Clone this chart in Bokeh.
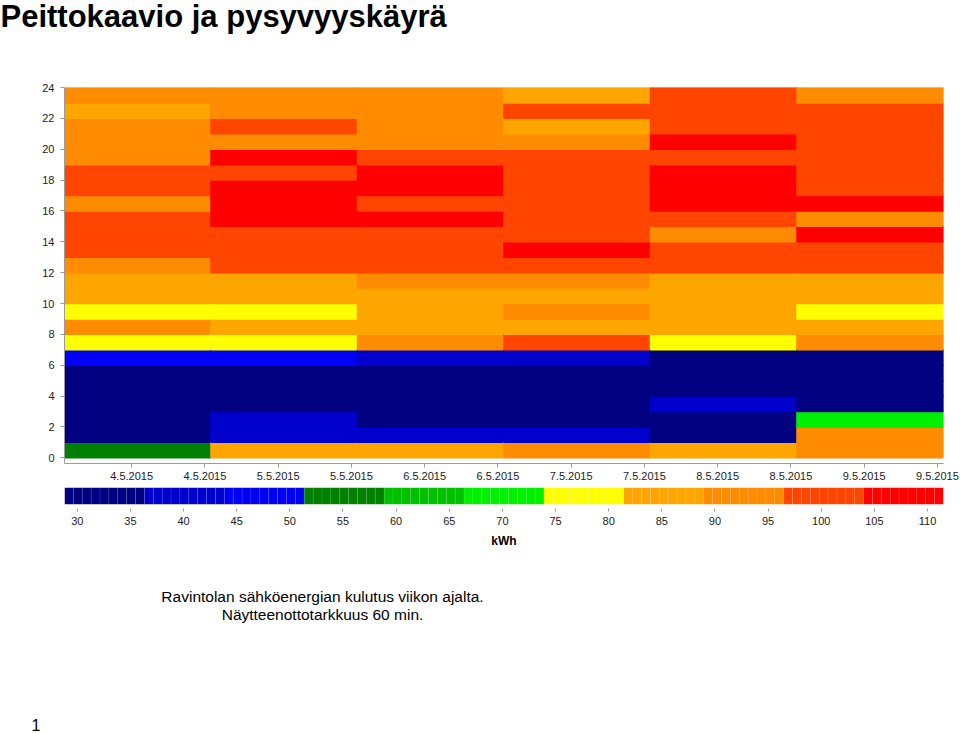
import numpy as np
from bokeh.plotting import figure
from bokeh.layouts import column
from bokeh.models import ColumnDataSource, Range1d, FixedTicker, LinearColorMapper, Label
from bokeh.transform import transform
from bokeh.embed import file_html
from bokeh.resources import INLINE

# ---------------- data ----------------
dates = ["4.5.2015", "5.5.2015", "6.5.2015", "7.5.2015", "8.5.2015", "9.5.2015"]
hours = list(range(24))
tick_hours = [11, 23]

# hourly energy consumption, kWh (index = hour 0..23)
kwh_04 = [55, 33, 32, 33, 32, 34, 47, 78, 91, 77, 86, 85, 92, 99, 100, 101, 93, 100, 99, 94, 92, 93, 87, 91]
kwh_05 = [85, 42, 43, 34, 33, 33, 48, 79, 84, 78, 86, 85, 101, 100, 102, 106, 107, 106, 101, 105, 93, 99, 92, 91]
kwh_06 = [86, 41, 34, 33, 32, 33, 41, 90, 86, 85, 86, 90, 100, 101, 99, 105, 102, 106, 107, 100, 93, 92, 92, 91]
kwh_07 = [91, 41, 34, 33, 33, 34, 42, 98, 87, 90, 86, 90, 99, 105, 100, 101, 100, 99, 101, 100, 92, 87, 99, 86]
kwh_08 = [85, 34, 33, 40, 33, 33, 35, 78, 85, 86, 84, 85, 100, 99, 92, 98, 106, 107, 106, 101, 105, 100, 101, 99]
kwh_09 = [91, 92, 70, 33, 32, 33, 34, 91, 86, 77, 85, 86, 100, 101, 105, 91, 106, 100, 99, 101, 100, 102, 100, 92]
series = [kwh_04, kwh_05, kwh_06, kwh_07, kwh_08, kwh_09]

scale_ticks = [30, 35, 40, 45, 50, 55, 60, 65, 70, 75, 80, 85, 90, 95, 100, 105, 110]
scale_low, scale_high = 28.8, 111.5
palette = ["#000080", "#0000CD", "#0000F5", "#008000", "#00C000", "#00F000",
           "#FFFF00", "#FFA500", "#FF8C00", "#FF4500", "#FF0000"]

title_text = "Peittokaavio ja pysyvyyskäyrä"
caption_1 = "Ravintolan sähköenergian kulutus viikon ajalta."
caption_2 = "Näytteenottotarkkuus 60 min."
page_no = "1"

FONT = "Liberation Sans"
W = 960
FL, FR = 64, 943   # frame edges shared by all stacked figures (page pixels)

mapper = LinearColorMapper(palette=palette, low=scale_low, high=scale_high)


def text_fig(h, **kw):
    f = figure(width=W, height=h, x_range=Range1d(FL, FR), y_range=Range1d(1, 0),
               x_axis_location=None, y_axis_location=None, toolbar_location=None,
               output_backend="svg", min_border_left=FL, min_border_right=W - FR,
               outline_line_color=None, **kw)
    f.grid.visible = False
    return f


# ---------------- title ----------------
pt = text_fig(50, title=title_text, title_location="above", min_border_top=0, min_border_bottom=0)
pt.title.text_font = FONT
pt.title.text_font_style = "bold"
pt.title.text_font_size = "31px"
pt.title.text_color = "black"
pt.title.align = "left"
pt.title.vertical_align = "top"
pt.title.offset = -FL
pt.title.standoff = -3

# ---------------- heatmap ----------------
xs, ys, vs = [], [], []
for d, vals in enumerate(series):
    for h, v in zip(hours, vals):
        xs.append(d + 0.5)
        ys.append(h + 0.5)
        vs.append(v)
src = ColumnDataSource(dict(x=xs, y=ys, kwh=vs))

p = figure(width=W, height=435, x_range=Range1d(0, len(dates)), y_range=Range1d(-0.37, 24),
           toolbar_location=None, output_backend="svg",
           min_border_left=FL, min_border_right=W - FR, min_border_top=37, min_border_bottom=22,
           outline_line_color=None)
p.grid.visible = False
p.rect(x="x", y="y", width=1, height=1, source=src,
       fill_color=transform("kwh", mapper), line_color=transform("kwh", mapper), line_width=1.5)

xticks = [d + h / 24 for d in range(len(dates)) for h in tick_hours]
p.xaxis.ticker = FixedTicker(ticks=xticks)
p.xaxis.major_label_overrides = {t: dates[int(t)] for t in xticks}
p.yaxis.ticker = FixedTicker(ticks=list(range(0, 25, 2)))
for ax in (p.xaxis, p.yaxis):
    ax.axis_line_color = "#9a9a9a"
    ax.major_tick_line_color = "#9a9a9a"
    ax.minor_tick_line_color = None
    ax.major_tick_in = 0
    ax.major_tick_out = 4
    ax.major_label_text_font = FONT
    ax.major_label_text_font_size = "11px"
    ax.major_label_text_color = "#222222"
p.xaxis.major_label_standoff = 4
p.yaxis.major_label_standoff = 6

# ---------------- colour scale ----------------
edges = np.linspace(scale_low, scale_high, 100)
csrc = ColumnDataSource(dict(left=edges[:-1], right=edges[1:],
                             mid=(edges[:-1] + edges[1:]) / 2))
pc = figure(width=W, height=75, x_range=Range1d(scale_low, scale_high), y_range=Range1d(-0.25, 1),
            y_axis_location=None, toolbar_location=None, output_backend="svg",
            min_border_left=FL, min_border_right=W - FR, min_border_top=2, min_border_bottom=52,
            outline_line_color=None)
pc.grid.visible = False
pc.quad(left="left", right="right", bottom=0, top=1, source=csrc,
        fill_color=transform("mid", mapper), line_color="white", line_alpha=0.1, line_width=0.8)
pc.xaxis.ticker = FixedTicker(ticks=scale_ticks)
pc.xaxis.axis_line_color = None
pc.xaxis.major_tick_line_color = "#9a9a9a"
pc.xaxis.minor_tick_line_color = None
pc.xaxis.major_tick_in = 0
pc.xaxis.major_tick_out = 3
pc.xaxis.major_label_standoff = 5
pc.xaxis.major_label_text_font = FONT
pc.xaxis.major_label_text_font_size = "11px"
pc.xaxis.major_label_text_color = "#222222"
pc.xaxis.axis_label = "kWh"
pc.xaxis.axis_label_text_font = FONT
pc.xaxis.axis_label_text_font_style = "bold"
pc.xaxis.axis_label_text_font_size = "12px"
pc.xaxis.axis_label_text_color = "black"
pc.xaxis.axis_label_standoff = 6

# ---------------- caption and page number ----------------
CAP_H, CAP_BOTTOM = 173, 17
pcap = text_fig(CAP_H, title=page_no, title_location="below", min_border_top=0,
                min_border_bottom=CAP_BOTTOM)
pcap.y_range = Range1d(CAP_H - CAP_BOTTOM, 0)
pcap.title.text_font = FONT
pcap.title.text_font_style = "normal"
pcap.title.text_font_size = "16px"
pcap.title.text_color = "black"
pcap.title.align = "left"
pcap.title.offset = 31 - FL
pcap.title.standoff = 0
for txt, yy in ((caption_1, 36), (caption_2, 54)):
    pcap.add_layout(Label(x=322, y=yy, text=txt, text_font=FONT, text_font_size="15.5px",
                          text_align="center", text_baseline="alphabetic", text_color="black"))

layout = column(pt, p, pc, pcap, spacing=0)
open("out.html", "w").write(file_html(layout, INLINE))
